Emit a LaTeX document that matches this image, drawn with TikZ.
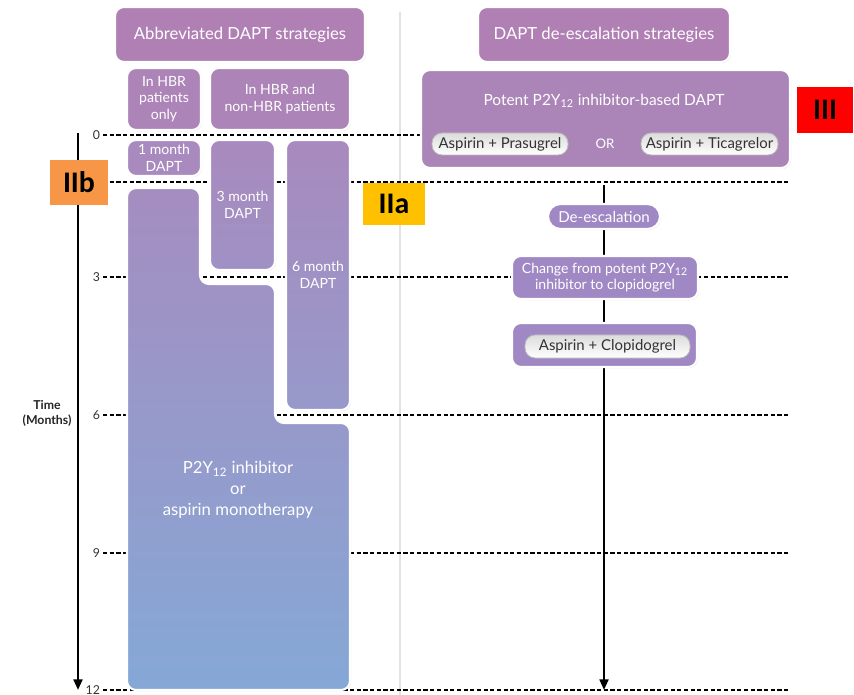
\documentclass[tikz,border=0pt]{standalone}
\usepackage{fontspec}
\setmainfont{Lato}
\newfontfamily\tierfont{Carlito}
\usetikzlibrary{shadows,arrows.meta}
\definecolor{hdr}{RGB}{176,128,181}
\definecolor{sub}{RGB}{172,132,184}
\definecolor{pot}{RGB}{171,133,183}
\definecolor{gzero}{RGB}{168,138,190}
\definecolor{gthree}{RGB}{160,145,196}
\definecolor{gsix}{RGB}{151,153,202}
\definecolor{gbig}{RGB}{165,141,192}
\definecolor{gend}{RGB}{133,168,214}
\definecolor{rbox}{RGB}{160,136,196}
\definecolor{pilltxt}{RGB}{50,50,50}
\definecolor{tierb}{RGB}{247,150,70}
\definecolor{tiera}{RGB}{255,192,0}
\definecolor{tierc}{RGB}{255,0,0}
\begin{document}
\begin{tikzpicture}[x=0.02cm,y=-0.02cm,
  sz/.style 2 args={minimum width=#1*0.02cm, minimum height=#2*0.02cm},
  box/.style={draw=white, line width=1.2pt, rounded corners=0.18cm, inner sep=0pt,
    text=white, align=center, font=\fontsize{8}{9.5}\selectfont,
    drop shadow={opacity=0.22, shadow xshift=0.6pt, shadow yshift=-0.6pt}},
  pill/.style={draw=gray!55, line width=0.5pt, rounded corners=0.2cm, inner sep=0pt,
    top color=gray!28, bottom color=white, text=pilltxt, font=\fontsize{8.5}{10}\selectfont},
  wtxt/.style={text=white, align=center, inner sep=0pt},
  dashline/.style={draw=black, line width=0.6pt, dash pattern=on 2.4pt off 1.4pt},
  axlab/.style={anchor=east, inner sep=1pt, font=\fontsize{7}{8}\selectfont, text=black!80},
  tier/.style={inner sep=0pt, font=\tierfont\bfseries\fontsize{17}{18}\selectfont, text=black},
  vline/.style={line width=1.3pt, -{Triangle[length=6pt,width=5pt]}}
]
\useasboundingbox (0,0) rectangle (854,695);
\fill[white] (0,0) rectangle (854,695);

% divider
\draw[gray!22, line width=1.6pt] (400,12) -- (400,695);

% time level dashed lines
\foreach \yy in {135,182,277,415,553,690} {
  \draw[dashline] (103,\yy) -- (790,\yy);
}
\node[axlab] (l0) at (102,135) {0};
\node[axlab] (l3) at (102,277) {3};
\node[axlab] (l6) at (102,415) {6};
\node[axlab] (l9) at (102,553) {9};
\node[axlab] (l12) at (102,690) {12};
\node[align=center, font=\bfseries\fontsize{7}{8.5}\selectfont, text=black!85] (time) at (47,413) {Time\\(Months)};

% time axis
\coordinate (tt) at (78,133);
\coordinate (tb) at (78,690);
\draw[vline] (tt) -- (tb);

% right arrow
\coordinate (rt) at (604,185);
\coordinate (rbb) at (604,690);
\draw[vline] (rt) -- (rbb);

% headers
\node[box, fill=hdr, font=\fontsize{9.5}{11}\selectfont, sz={250}{55}] (abbr) at (240,34.5) {Abbreviated DAPT strategies};
\node[box, fill=hdr, font=\fontsize{9.5}{11}\selectfont, sz={252}{55}] (desc) at (604,34.5) {DAPT de-escalation strategies};

% left column boxes
\node[box, fill=sub, sz={74}{62}] (hbr) at (164,99) {In HBR\\patients\\only};
\node[box, fill=sub, sz={140}{62}] (both) at (280,99) {In HBR and\\non-HBR patients};
\node[box, fill=gzero, sz={74}{36}] (m1) at (164,158) {1 month\\DAPT};
\node[box, top color=gzero, bottom color=gthree, sz={65}{130}] (m3) at (242.5,205) {3 month\\DAPT};
\node[box, top color=gzero, bottom color=gsix, sz={64}{270}] (m6) at (318,275) {6 month\\DAPT};

% big monotherapy shape
\path[draw=white, line width=1.2pt, rounded corners=0.18cm, top color=gbig, bottom color=gend,
  drop shadow={opacity=0.22, shadow xshift=0.6pt, shadow yshift=-0.6pt}]
  (127,188) -- (200,188) -- (200,284) -- (275,284) -- (275,423) -- (350,423)
  -- (350,690) -- (127,690) -- cycle;
\node[wtxt, font=\fontsize{9.5}{12}\selectfont] (mono) at (238,490) {P2Y\textsubscript{12} inhibitor\\or\\aspirin monotherapy};

% right column
\node[box, fill=pot, sz={369}{98}] (potent) at (605.5,119) {};
\node[wtxt, font=\fontsize{8.8}{10}\selectfont] (pottxt) at (604,101) {Potent P2Y\textsubscript{12} inhibitor-based DAPT};
\node[pill, sz={136}{22}] (pras) at (500,144) {Aspirin + Prasugrel};
\node[wtxt, font=\fontsize{7.5}{8}\selectfont] (or) at (605,144) {OR};
\node[pill, sz={137}{22}] (tica) at (709.5,144) {Aspirin + Ticagrelor};

\node[box, fill=rbox, rounded corners=0.25cm, font=\fontsize{8.6}{10}\selectfont, sz={112}{25}] (deesc) at (604,216.5) {De-escalation};
\node[box, fill=rbox, sz={186}{43}] (change) at (605,277.5) {Change from potent P2Y\textsubscript{12}\\inhibitor to clopidogrel};
\node[box, fill=rbox, sz={185}{44}] (clopbox) at (604.5,345) {};
\node[pill, sz={165}{23}] (clop) at (607.5,346.5) {Aspirin + Clopidogrel};

% tiers
\node[tier, fill=tierb, sz={58}{45}] (iib) at (79,182.5) {IIb};
\node[tier, fill=tiera, sz={62}{42}] (iia) at (394,204) {IIa};
\node[tier, fill=tierc, sz={56}{46}] (iii) at (825,110) {III};
\end{tikzpicture}
\end{document}
